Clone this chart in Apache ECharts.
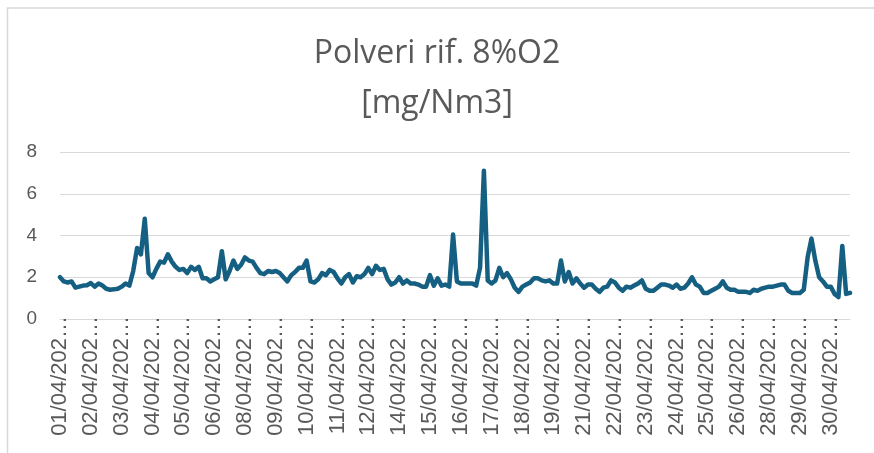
<!DOCTYPE html>
<html>
<head>
<meta charset="utf-8">
<script src="https://cdn.jsdelivr.net/npm/echarts@6/dist/echarts.min.js"></script>
<style>
  html, body { margin: 0; padding: 0; background: #fff; }
  #chart { width: 874px; height: 453px; }
</style>
</head>
<body>
<div id="chart"></div>
<script>
// tick labels (one every 8 points), as Excel shows them truncated
const dayLabels = [
  '01/04/202…', '02/04/202…', '03/04/202…', '04/04/202…', '05/04/202…', '06/04/202…',
  '08/04/202…', '09/04/202…', '10/04/202…', '11/04/202…', '12/04/202…', '14/04/202…',
  '15/04/202…', '16/04/202…', '17/04/202…', '18/04/202…', '19/04/202…', '21/04/202…',
  '22/04/202…', '23/04/202…', '24/04/202…', '25/04/202…', '26/04/202…', '28/04/202…',
  '29/04/202…', '30/04/202…'
]
const pointsPerLabel = 8

// Polveri rif. 8%O2 [mg/Nm3]
const polveri = [
  2.0, 1.8, 1.75, 1.8, 1.5, 1.55, 1.6, 1.62,
  1.72, 1.55, 1.7, 1.6, 1.45, 1.4, 1.42, 1.45,
  1.55, 1.7, 1.6, 2.3, 3.4, 3.1, 4.8, 2.2,
  2.0, 2.4, 2.75, 2.7, 3.1, 2.75, 2.5, 2.35,
  2.4, 2.2, 2.5, 2.35, 2.5, 1.95, 1.95, 1.8,
  1.9, 2.0, 3.25, 1.9, 2.3, 2.8, 2.4, 2.6,
  2.95, 2.8, 2.75, 2.45, 2.2, 2.15, 2.3, 2.25,
  2.3, 2.2, 2.0, 1.8, 2.1, 2.25, 2.45, 2.45,
  2.8, 1.8, 1.75, 1.9, 2.2, 2.1, 2.35, 2.25,
  1.95, 1.7, 2.0, 2.15, 1.75, 2.05, 2.0, 2.15,
  2.45, 2.15, 2.55, 2.35, 2.4, 1.9, 1.65, 1.75,
  2.0, 1.7, 1.85, 1.7, 1.7, 1.65, 1.55, 1.55,
  2.1, 1.6, 1.95, 1.6, 1.65, 1.55, 4.05, 1.8,
  1.7, 1.7, 1.7, 1.7, 1.6, 2.45, 7.1, 1.85,
  1.7, 1.85, 2.45, 2.0, 2.2, 1.9, 1.5, 1.3,
  1.55, 1.65, 1.75, 1.95, 1.95, 1.85, 1.8, 1.85,
  1.7, 1.7, 2.8, 1.8, 2.25, 1.7, 1.95, 1.7,
  1.5, 1.65, 1.65, 1.45, 1.3, 1.5, 1.55, 1.85,
  1.75, 1.5, 1.35, 1.55, 1.5, 1.6, 1.7, 1.85,
  1.45, 1.35, 1.35, 1.5, 1.65, 1.65, 1.6, 1.5,
  1.65, 1.45, 1.5, 1.7, 2.0, 1.65, 1.55, 1.25,
  1.25, 1.35, 1.45, 1.55, 1.8, 1.5, 1.4, 1.4,
  1.3, 1.3, 1.3, 1.25, 1.4, 1.35, 1.45, 1.5,
  1.55, 1.55, 1.6, 1.65, 1.65, 1.35, 1.25, 1.25,
  1.25, 1.4, 2.95, 3.85, 2.8, 2.0, 1.8, 1.55,
  1.55, 1.2, 1.05, 3.5, 1.2, 1.25
]

// one category per reading; the label is the day it belongs to
const categories = polveri.map((v, i) => dayLabels[Math.floor(i / pointsPerLabel)] + '#' + (i % pointsPerLabel))

const chart = echarts.init(document.getElementById('chart'))

chart.setOption({
  animation: false,
  backgroundColor: '#fff',
  graphic: [{
    type: 'rect',
    shape: { x: 7.5, y: 8, width: 900, height: 500 },
    style: { fill: 'none', stroke: '#d9d9d9', lineWidth: 1.5 },
    silent: true
  }],
  title: {
    text: 'Polveri rif. 8%O2\n[mg/Nm3]',
    left: 'center',
    top: 24,
    textStyle: {
      fontFamily: 'Open Sans',
      fontSize: 32,
      fontWeight: 'normal',
      color: '#595959',
      lineHeight: 50
    }
  },
  grid: {
    left: 60,
    right: 24,
    top: 152,
    bottom: 134
  },
  xAxis: {
    type: 'category',
    data: categories,
    boundaryGap: false,
    axisLine: { lineStyle: { color: '#d9d9d9', width: 1 } },
    axisTick: { show: false },
    axisLabel: {
      interval: pointsPerLabel - 1,
      rotate: 90,
      margin: -3,
      fontFamily: 'Liberation Sans',
      fontSize: 22,
      color: '#595959',
      formatter: v => v.split('#')[0]
    },
    splitLine: { show: false }
  },
  yAxis: {
    type: 'value',
    min: 0,
    max: 8,
    interval: 2,
    axisLine: { show: false },
    axisTick: { show: false },
    axisLabel: {
      margin: 23,
      fontFamily: 'Liberation Sans',
      fontSize: 19,
      color: '#595959'
    },
    splitLine: { lineStyle: { color: '#d9d9d9', width: 1 } }
  },
  series: [{
    name: 'Polveri rif. 8%O2',
    type: 'line',
    data: polveri,
    symbol: 'none',
    lineStyle: {
      color: '#156082',
      width: 4.5,
      cap: 'round',
      join: 'round'
    }
  }]
})
</script>
</body>
</html>
